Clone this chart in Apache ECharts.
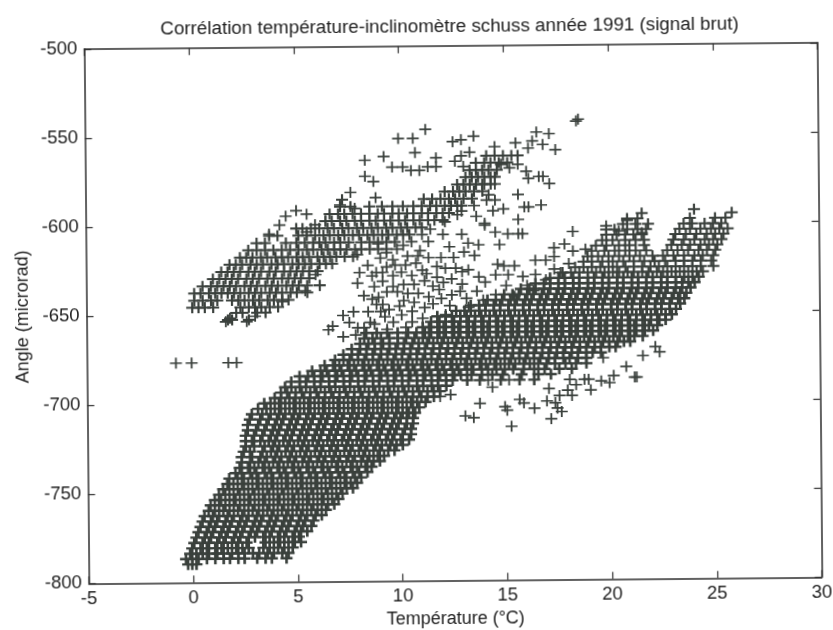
<!DOCTYPE html>
<html><head><meta charset="utf-8">
<script src="https://cdn.jsdelivr.net/npm/echarts@6/dist/echarts.min.js"></script>
<style>html,body{margin:0;padding:0;background:#fff;overflow:hidden}
#c{position:absolute;left:0;top:0;width:833px;height:630px;transform:rotate(-0.5deg);transform-origin:452px 312px}</style>
</head><body><div id="c"></div>
<script>
const titleText='Corrélation température-inclinomètre schuss année 1991 (signal brut)';
const xName='Température (°C)', yName='Angle (microrad)';
const xTicks=[-5,0,5,10,15,20,25,30], yTicks=[-800,-750,-700,-650,-600,-550,-500];
// each row: [angle, [temperatures...]]
const mainMassRows=[
[-789,[-0.4,-0.2,0.0]],
[-786,[-0.5,-0.2,0.1,0.5,0.9,1.3,1.6,2.0,2.3,2.9,3.3,3.6,4.3]],
[-783,[-0.3,0.0,0.3,0.6,1.0,1.3,1.7,2.0,2.3,2.7,3.0,3.4,3.7,4.1,4.4]],
[-780,[-0.2,0.2,0.5,0.9,1.2,1.5,1.9,2.2,2.5,3.2,3.5,3.9,4.2,4.6]],
[-777,[-0.1,0.3,0.6,1.0,1.3,1.7,2.0,2.4,3.3,3.7,4.0,4.4,4.7,5.0]],
[-774,[0.0,0.4,0.7,1.1,1.4,1.8,2.1,2.5,2.8,3.2,3.5,3.9,4.2,4.6,4.9]],
[-771,[0.1,0.5,0.8,1.2,1.5,1.9,2.2,2.6,2.9,3.3,3.6,4.0,4.3,4.7,5.0,5.3]],
[-768,[0.2,0.6,0.9,1.3,1.6,2.0,2.3,2.7,3.0,3.4,3.7,4.1,4.4,4.8,5.1,5.5]],
[-765,[0.3,0.7,1.0,1.4,1.7,2.1,2.4,2.8,3.1,3.5,3.8,4.2,4.5,4.9,5.2,5.6]],
[-762,[0.4,0.8,1.1,1.5,1.8,2.2,2.5,2.9,3.2,3.6,3.9,4.3,4.6,5.0,5.3,5.7,6.0]],
[-759,[0.6,0.9,1.3,1.6,2.0,2.3,2.7,3.0,3.4,3.7,4.1,4.4,4.8,5.1,5.5,5.8,6.2]],
[-756,[0.7,1.1,1.4,1.8,2.1,2.5,2.8,3.2,3.5,3.9,4.2,4.6,4.9,5.3,5.6,6.0,6.3,6.6]],
[-753,[0.9,1.2,1.6,1.9,2.3,2.6,3.0,3.3,3.7,4.0,4.4,4.7,5.1,5.4,5.8,6.1,6.5,6.8]],
[-750,[1.1,1.4,1.8,2.1,2.5,2.8,3.2,3.5,3.9,4.2,4.6,4.9,5.3,5.6,6.0,6.3,6.7,7.0]],
[-747,[1.3,1.6,2.0,2.3,2.7,3.0,3.4,3.7,4.1,4.4,4.8,5.1,5.5,5.8,6.2,6.5,6.9,7.2,7.5]],
[-744,[1.5,1.8,2.2,2.5,2.9,3.2,3.6,3.9,4.3,4.6,5.0,5.3,5.7,6.0,6.4,6.7,7.1,7.4,7.7]],
[-741,[1.6,2.0,2.3,2.7,3.0,3.4,3.7,4.1,4.4,4.8,5.1,5.5,5.8,6.2,6.5,6.9,7.2,7.6,7.9]],
[-738,[1.9,2.2,2.6,2.9,3.3,3.6,4.0,4.3,4.7,5.0,5.4,5.7,6.1,6.4,6.8,7.1,7.5,7.8,8.2]],
[-735,[2.1,2.5,2.8,3.2,3.5,3.9,4.2,4.6,4.9,5.3,5.6,6.0,6.3,6.7,7.0,7.4,7.7,8.1,8.4]],
[-732,[2.2,2.6,3.0,3.3,3.7,4.0,4.4,4.7,5.1,5.4,5.8,6.1,6.5,6.8,7.2,7.5,7.9,8.2,8.5,8.8]],
[-729,[2.2,2.7,3.1,3.4,3.8,4.1,4.5,4.8,5.2,5.5,5.9,6.2,6.6,6.9,7.3,7.6,8.0,8.3,8.7,9.0]],
[-726,[2.3,2.6,3.2,3.6,3.9,4.3,4.6,5.0,5.3,5.7,6.0,6.4,6.7,7.1,7.4,7.8,8.1,8.5,8.8,9.2,9.5]],
[-723,[2.4,2.8,3.3,3.7,4.0,4.4,4.7,5.1,5.4,5.8,6.1,6.5,6.8,7.2,7.5,7.9,8.2,8.6,8.9,9.3,9.6,9.9]],
[-720,[2.4,2.7,3.1,3.5,3.8,4.2,4.5,4.9,5.2,5.6,5.9,6.3,6.6,7.0,7.3,7.7,8.0,8.4,8.7,9.1,9.4,9.8,10.2]],
[-717,[2.4,2.8,3.2,3.6,3.9,4.3,4.6,5.0,5.3,5.7,6.0,6.4,6.7,7.1,7.4,7.8,8.1,8.5,8.8,9.2,9.5,9.9,10.3]],
[-714,[2.5,2.9,3.3,3.7,4.0,4.4,4.7,5.1,5.4,5.8,6.1,6.5,6.8,7.2,7.5,7.9,8.2,8.6,8.9,9.3,9.6,10.0,10.3]],
[-711,[2.5,3.0,3.4,3.8,4.1,4.5,4.8,5.2,5.5,5.9,6.2,6.6,6.9,7.3,7.6,8.0,8.3,8.7,9.0,9.4,9.7,10.1,10.4]],
[-708,[2.6,3.1,3.5,3.9,4.2,4.6,4.9,5.3,5.6,6.0,6.3,6.7,7.0,7.4,7.7,8.1,8.4,8.8,9.1,9.5,9.8,10.1,10.4]],
[-705,[2.7,3.2,3.6,4.0,4.3,4.7,5.0,5.4,5.7,6.1,6.4,6.8,7.1,7.5,7.8,8.2,8.5,8.9,9.2,9.6,9.9,10.2,10.5]],
[-702,[3.0,3.4,3.8,4.1,4.5,4.8,5.2,5.5,5.9,6.2,6.6,6.9,7.3,7.6,8.0,8.3,8.7,9.0,9.4,9.7,10.1,10.4,10.7]],
[-699,[3.3,3.6,4.0,4.3,4.7,5.0,5.4,5.7,6.1,6.4,6.8,7.1,7.5,7.8,8.2,8.5,8.9,9.2,9.6,9.9,10.3,10.6,11.0]],
[-696,[3.8,4.1,4.5,4.8,5.2,5.5,5.9,6.2,6.6,6.9,7.3,7.6,8.0,8.3,8.7,9.0,9.4,9.7,10.1,10.4,10.8,11.1,11.4]],
[-693,[4.1,4.4,4.8,5.1,5.5,5.8,6.2,6.5,6.9,7.2,7.6,7.9,8.3,8.6,9.0,9.3,9.7,10.0,10.4,10.7,11.1,11.4,11.7]],
[-690,[4.3,4.6,5.0,5.3,5.7,6.0,6.4,6.7,7.1,7.4,7.8,8.1,8.5,8.8,9.2,9.5,9.9,10.2,10.6,10.9,11.3,11.6,12.0]],
[-687,[4.6,5.0,5.3,5.7,6.0,6.4,6.7,7.1,7.4,7.8,8.1,8.5,8.8,9.2,9.5,9.9,10.2,10.6,10.9,11.3,11.6,12.0,12.3,13.0,13.6,14.6,15.5,16.2]],
[-684,[5.0,5.4,5.7,6.1,6.4,6.8,7.1,7.5,7.8,8.2,8.5,8.9,9.2,9.6,9.9,10.3,10.6,11.0,11.3,11.7,12.0,12.4,12.7,13.2,13.7,14.2,14.7,15.6,16.4,17.0]],
[-681,[5.6,6.0,6.3,6.7,7.0,7.4,7.7,8.1,8.4,8.8,9.1,9.5,9.8,10.2,10.5,10.9,11.2,11.6,11.9,12.3,12.6,13.0,13.3,13.7,14.0,14.4,14.8,15.2,15.7,16.2,16.7,17.4,18.0]],
[-678,[6.2,6.6,6.9,7.3,7.6,8.0,8.3,8.7,9.0,9.4,9.7,10.1,10.4,10.8,11.1,11.5,11.8,12.2,12.5,12.9,13.2,13.6,13.9,14.3,14.6,15.0,15.3,15.7,16.0,16.4,16.8,17.2,17.7,18.2,18.7]],
[-675,[6.7,7.1,7.4,7.8,8.1,8.5,8.8,9.2,9.5,9.9,10.2,10.6,10.9,11.3,11.6,12.0,12.3,12.7,13.0,13.4,13.7,14.1,14.4,14.8,15.1,15.5,15.8,16.2,16.5,16.9,17.2,17.6,17.9,18.3,18.7]],
[-672,[7.1,7.5,7.8,8.2,8.5,8.9,9.2,9.6,9.9,10.3,10.6,11.0,11.3,11.7,12.0,12.4,12.7,13.1,13.4,13.8,14.1,14.5,14.8,15.2,15.5,15.9,16.2,16.6,16.9,17.3,17.6,18.0,18.3,18.7,19.0,19.4]],
[-669,[7.5,7.9,8.2,8.6,8.9,9.3,9.6,10.0,10.3,10.7,11.0,11.4,11.7,12.1,12.4,12.8,13.1,13.5,13.8,14.2,14.5,14.9,15.2,15.6,15.9,16.3,16.6,17.0,17.3,17.7,18.0,18.4,18.7,19.1,19.4,19.8,20.1]],
[-666,[7.9,8.3,8.6,9.0,9.3,9.7,10.0,10.4,10.7,11.1,11.4,11.8,12.1,12.5,12.8,13.2,13.5,13.9,14.2,14.6,14.9,15.3,15.6,16.0,16.3,16.7,17.0,17.4,17.7,18.1,18.4,18.8,19.1,19.5,19.8,20.2,20.5,20.8]],
[-663,[8.1,8.5,8.9,9.3,9.7,10.1,10.5,10.9,11.2,11.6,11.9,12.3,12.6,13.0,13.3,13.7,14.0,14.4,14.7,15.1,15.4,15.8,16.1,16.5,16.8,17.2,17.5,17.9,18.2,18.6,18.9,19.3,19.6,20.0,20.3,20.7,21.0,21.4]],
[-660,[8.2,8.7,9.2,9.7,10.2,10.6,11.0,11.3,11.7,12.0,12.4,12.7,13.1,13.4,13.8,14.1,14.5,14.8,15.2,15.5,15.9,16.2,16.6,16.9,17.3,17.6,18.0,18.3,18.7,19.0,19.4,19.7,20.1,20.4,20.8,21.1,21.5,21.9]],
[-657,[10.9,11.2,11.6,11.9,12.3,12.6,13.0,13.3,13.7,14.0,14.4,14.7,15.1,15.4,15.8,16.1,16.5,16.8,17.2,17.5,17.9,18.2,18.6,18.9,19.3,19.6,20.0,20.3,20.7,21.0,21.4,21.7,22.1]],
[-654,[11.3,11.7,12.0,12.4,12.7,13.1,13.4,13.8,14.1,14.5,14.8,15.2,15.5,15.9,16.2,16.6,16.9,17.3,17.6,18.0,18.3,18.7,19.0,19.4,19.7,20.1,20.4,20.8,21.1,21.5,21.8,22.2,22.5]],
[-651,[11.6,12.0,12.3,12.7,13.0,13.4,13.7,14.1,14.4,14.8,15.1,15.5,15.8,16.2,16.5,16.9,17.2,17.6,17.9,18.3,18.6,19.0,19.3,19.7,20.0,20.4,20.7,21.1,21.4,21.8,22.1,22.5,22.8]],
[-648,[12.5,12.9,13.2,13.6,13.9,14.3,14.6,15.0,15.3,15.7,16.0,16.4,16.7,17.1,17.4,17.8,18.1,18.5,18.8,19.2,19.5,19.9,20.2,20.6,20.9,21.3,21.6,22.0,22.3,22.7,23.0]],
[-645,[13.2,13.6,13.9,14.3,14.6,15.0,15.3,15.7,16.0,16.4,16.7,17.1,17.4,17.8,18.1,18.5,18.8,19.2,19.5,19.9,20.2,20.6,20.9,21.3,21.6,22.0,22.3,22.7,23.2]],
[-642,[14.0,14.4,14.7,15.1,15.4,15.8,16.1,16.5,16.8,17.2,17.5,17.9,18.2,18.6,18.9,19.3,19.6,20.0,20.3,20.7,21.0,21.4,21.7,22.1,22.4,22.8,23.1,23.4]],
[-639,[14.8,15.2,15.5,15.9,16.2,16.6,16.9,17.3,17.6,18.0,18.3,18.7,19.0,19.4,19.7,20.1,20.4,20.8,21.1,21.5,21.8,22.2,22.5,22.9,23.2,23.5]],
[-636,[15.6,16.0,16.3,16.7,17.0,17.4,17.7,18.1,18.4,18.8,19.1,19.5,19.8,20.2,20.5,20.9,21.2,21.6,21.9,22.3,22.6,23.0,23.3,23.7]],
[-633,[16.3,16.7,17.0,17.4,17.7,18.1,18.4,18.8,19.1,19.5,19.8,20.2,20.5,20.9,21.2,21.6,21.9,22.3,22.6,23.0,23.3,23.6,23.9]],
[-630,[17.0,17.4,17.7,18.1,18.4,18.8,19.1,19.5,19.8,20.2,20.5,20.9,21.2,21.6,21.9,22.3,22.6,23.0,23.4,23.8,24.1]]
];
const rightLobeRows=[
[-627,[17.6,18.0,18.4,18.8,19.2,19.6,20.0,20.3,20.7,21.0,21.4,21.7,22.1,22.4,22.8,23.2,23.6,24.0,24.3]],
[-624,[18.2,18.6,19.0,19.4,19.8,20.2,20.6,21.0,21.4,21.8,22.2,22.6,23.0,23.4,23.8,24.2,24.8]],
[-621,[18.6,19.0,19.5,20.0,20.5,21.0,21.5,22.0,22.5,23.0,23.4,23.8,24.2,24.7]],
[-618,[18.8,19.3,19.8,20.3,20.8,21.3,21.9,22.4,22.9,23.4,23.9,24.3,24.8]],
[-615,[19.0,19.6,20.1,20.6,21.1,21.6,22.6,23.1,23.6,24.1,24.5,24.9]],
[-612,[19.2,19.7,20.3,20.8,21.5,22.8,23.3,23.7,24.2,24.6,25.0]],
[-609,[19.5,20.0,20.6,21.1,21.5,22.9,23.4,23.9,24.4,24.8,25.2]],
[-606,[19.7,20.2,20.6,21.0,21.4,23.0,23.5,24.0,24.5,24.9,25.3]],
[-603,[19.7,20.1,20.7,21.2,21.6,23.2,23.7,24.2,24.7,25.1,25.5]],
[-600,[20.5,21.1,21.7,23.4,23.8,24.4,24.8,25.2]],
[-597,[20.7,21.2,23.7,24.9,25.4]],
[-594,[21.4,25.7]],
[-592,[23.9]]
];
const upperBandRows=[
[-652,[1.6,1.8,2.6]],
[-648,[2.0,2.3,3.0,3.4]],
[-645,[-0.1,0.2,0.5,0.9,2.2,2.6,2.9,3.2,3.6,4.0]],
[-641,[0.0,0.4,0.8,1.1,1.8,2.1,2.4,2.8,3.1,3.5,3.8,4.2,4.5]],
[-637,[0.0,0.3,0.7,1.0,1.3,1.6,1.9,2.2,2.6,2.9,3.2,3.6,3.9,4.2,4.6,4.9,5.4]],
[-633,[0.4,0.8,1.1,1.4,1.7,2.0,2.4,2.7,3.0,3.4,3.7,4.0,4.4,4.7,5.0,5.4,6.0]],
[-629,[0.9,1.2,1.5,1.8,2.1,2.5,2.8,3.1,3.5,3.8,4.2,4.5,4.8,5.1,5.5]],
[-625,[1.3,1.6,1.9,2.2,2.6,2.9,3.2,3.6,3.9,4.3,4.6,4.9,5.2,5.5,5.9]],
[-621,[1.7,2.0,2.3,2.7,3.0,3.3,3.7,4.0,4.3,4.7,5.0,5.3,5.6,6.0,6.3,6.6]],
[-617,[2.2,2.5,2.8,3.2,3.5,3.9,4.2,4.5,4.9,5.2,5.5,5.9,6.2,6.5,6.8,7.2,7.6]],
[-613,[2.6,3.0,3.4,3.8,4.2,4.6,5.0,5.4,5.7,6.1,6.4,6.7,7.0,7.3,7.7,8.0,8.4,8.8,9.2]],
[-609,[3.0,3.4,4.4,4.9,5.3,5.7,6.0,6.3,6.7,7.0,7.4,8.0,8.4,8.8,9.2,9.6]],
[-605,[3.6,4.0,5.0,5.4,5.8,6.2,6.5,6.9,7.2,7.6,7.9,8.3,8.6,9.0,9.3,9.7,10.0,10.3]],
[-601,[4.9,5.2,5.6,6.0,6.4,6.7,7.1,7.4,7.8,8.1,8.5,8.8,9.2,9.5,9.9,10.2,10.6,10.9]],
[-597,[6.3,6.6,7.0,7.3,7.7,8.0,8.4,8.7,9.1,9.4,9.8,10.1,10.5,10.8,11.2,11.5,11.9]],
[-593,[6.5,6.9,7.2,7.6,8.0,8.4,8.8,9.1,9.5,9.8,10.2,10.5,10.9,11.2,11.6,11.9,12.2]],
[-589,[7.0,7.5,8.4,9.0,9.5,10.0,10.5,10.9,11.3,11.6,12.0,12.3,12.6,12.8]],
[-585,[7.1,11.0,11.4,11.8,12.2,12.5,12.9,13.3]],
[-581,[12.0,12.4,12.7,13.0,13.4,13.8]],
[-577,[12.6,12.9,13.2,13.5,13.8,14.2]],
[-573,[13.0,13.3,13.6,13.9,14.2,14.4]],
[-569,[13.2,13.5,13.8,14.1,14.5]],
[-565,[13.5,13.9,14.2,14.6,15.0]],
[-561,[14.0,14.4,14.8,15.2,15.5]]
];
const scatterPoints=[
[11.1,-546],[9.8,-551],[10.5,-551],[9.1,-561],[10.6,-559],[11.6,-562],[12.4,-553],[12.8,-552],[13.4,-550],[13.2,-559],[16.4,-548],[17.0,-549],[18.3,-542],[18.4,-541],[16.0,-557],[17.3,-558],[16.7,-555],[15.4,-554],[14.4,-556],[16.2,-553],
[8.6,-575],[9.5,-567],[10.0,-567],[10.4,-569],[10.8,-569],[11.2,-567],[11.6,-567],[12.5,-564],[12.8,-561],[12.9,-567],[14.7,-566],[15.1,-568],[15.5,-566],[15.9,-570],[16.0,-574],[16.5,-573],[16.7,-573],[17.0,-577],[14.4,-577],[13.9,-577],
[14.1,-583],[14.0,-586],[14.4,-586],[15.5,-583],[15.8,-590],[16.0,-590],[16.6,-589],[14.8,-591],[14.3,-592],[13.4,-589],[13.5,-595],[15.5,-597],[13.9,-599],[13.9,-600],[14.4,-604],[15.0,-605],[15.5,-605],[15.7,-605],[14.6,-611],[13.6,-611],[13.1,-610],[12.9,-615],[13.4,-617],[12.8,-605],[18.1,-604],
[19.7,-601],[20.3,-604],[20.7,-598],[21.4,-605],[22.0,-621],[16.3,-620],[16.8,-620],[17.2,-618],[17.9,-622],[17.7,-611],[17.2,-613],[18.1,-615],[18.7,-614],[14.5,-622],[14.8,-623],[15.3,-623],[14.4,-628],[15.7,-629],[16.3,-628],[17.2,-625],[17.5,-627],[16.8,-631],[15.9,-634],[16.2,-637],
[12.8,-626],[13.1,-625],[12.5,-624],[13.6,-629],[12.8,-633],[12.7,-637],[13.5,-637],[14.4,-639],[12.2,-612],[11.9,-605],[11.3,-602],[12.0,-598],[12.6,-594],[12.8,-592],
[10.8,-614],[11.2,-609],[10.9,-605],[10.4,-609],[10.0,-611],[9.7,-613],[9.2,-615],[8.9,-618],[10.1,-622],[10.6,-621],[11.2,-618],[11.8,-618],[12.4,-618],[11.6,-623],[9.2,-623],[9.6,-622],[8.7,-626],[9.5,-628],[10.4,-628],[11.1,-627],[11.6,-629],[11.9,-632],[9.0,-631],[10.0,-633],[9.2,-637],[9.7,-637],[10.7,-638],[11.2,-640],[11.8,-641],[8.8,-640],[10.0,-642],[9.3,-647],[10.4,-648],[9.5,-654],[10.4,-654],[8.6,-655],[9.9,-650],[11.0,-646],[11.4,-634],[12.2,-645],[10.9,-652],[9.1,-651],
[10.2,-617],[10.9,-625],[9.9,-626],[9.0,-626],[8.6,-634],[9.5,-634],[10.5,-633],[11.0,-631],[10.2,-638],[9.0,-644],[9.8,-645],[10.5,-643],[11.4,-644],[11.7,-636],[12.3,-630],[12.3,-639],[13.0,-641],[8.9,-648],[10.1,-657],[9.2,-658],[12.0,-650],[13.1,-646],[13.8,-642],[14.9,-634],[15.3,-640],[15.0,-628],[13.9,-632],[12.0,-624],[10.7,-617],[9.5,-619],[8.8,-610],
[7.8,-616],[8.3,-622],[7.9,-626],[8.5,-628],[7.8,-632],[8.1,-639],[8.5,-641],[7.1,-650],[6.6,-656],[7.6,-648],[8.4,-654],[8.7,-644],[7.8,-657],[7.1,-662],[8.1,-657],[6.4,-658],[7.4,-654],[8.3,-648],[7.7,-661],
[8.2,-563],[8.2,-572],[7.5,-581],[8.7,-584],[4.9,-591],[4.4,-594],[5.4,-593],[4.1,-599],[4.9,-601],[5.8,-599],[5.4,-603],[3.6,-604],[6.3,-597],[7.0,-588],[7.7,-590],[5.8,-627],[6.0,-633],[5.3,-636],[4.2,-642],[2.5,-653],[2.9,-650],[1.5,-653],[1.7,-651],
[12.9,-707],[13.3,-708],[13.6,-700],[14.8,-702],[14.9,-704],[15.1,-713],[15.5,-698],[15.7,-700],[16.2,-703],[16.8,-699],[17.2,-700],[17.0,-709],[17.3,-703],[17.5,-705],[17.4,-696],[17.8,-693],[18.0,-696],[18.9,-693],[18.6,-687],[18.8,-687],[19.4,-688],[19.8,-689],[20.0,-685],[21.1,-686],[21.0,-686],[22.2,-672],[19.5,-675],[14.0,-687],[14.2,-691],[15.0,-687],[16.9,-692],[17.9,-687],[18.2,-690],[11.7,-696],[12.2,-695],[20.6,-680],[21.4,-674],[22.0,-669]
];
const isolatedPoints=[[-0.9,-676],[-0.15,-676],[1.6,-676],[2.0,-676]];
// correction of my picture readings, which were taken against the tilted scan's lower ticks
const tempReadingCorrection=0.15, angleReadingCorrection=-0.8;

const plusThin='path://M4.25 0H5.75V4.25H10V5.75H5.75V10H4.25V5.75H0V4.25H4.25Z';
const plusMedium='path://M4.1 0H5.9V4.1H10V5.9H5.9V10H4.1V5.9H0V4.1H4.1Z';
const plusThick='path://M3.9 0H6.1V3.9H10V6.1H6.1V10H3.9V6.1H0V3.9H3.9Z';
const fix=p=>[p[0]+tempReadingCorrection,p[1]+angleReadingCorrection];
const toPoints=rows=>{const out=[];for(const [a,ts] of rows) for(const t of ts) out.push(fix([t,a]));return out;};
const ink='#3a403c', fontName='"Liberation Sans",Arial,sans-serif';
const chart=echarts.init(document.getElementById('c'),null,{renderer:'canvas'});
function xa(pos,show){return {type:'value',position:pos,min:-5,max:30,interval:5,
  axisLine:{show:true,onZero:false,lineStyle:{color:'#2e2e2e',width:1.5}},
  axisTick:{show:true,inside:true,length:7,lineStyle:{color:'#2e2e2e',width:1.2}},
  splitLine:{show:false},
  axisLabel:{show:show,color:'#222',fontSize:18.5,fontFamily:fontName,margin:6},
  name:show?xName:'',nameLocation:'middle',nameGap:29,
  nameTextStyle:{color:'#222',fontSize:18,fontFamily:fontName}};}
function ya(pos,show){return {type:'value',position:pos,min:-800,max:-500,interval:50,
  axisLine:{show:true,onZero:false,lineStyle:{color:'#2e2e2e',width:1.5}},
  axisTick:{show:true,inside:true,length:7,lineStyle:{color:'#2e2e2e',width:1.2}},
  splitLine:{show:false},
  axisLabel:{show:show,color:'#222',fontSize:18.5,fontFamily:fontName,margin:7},
  name:show?yName:'',nameLocation:'middle',nameGap:44,
  nameTextStyle:{color:'#222',fontSize:18,fontFamily:fontName}};}
const marks=(data,symbol)=>({type:'scatter',data,symbol,symbolSize:[12,11],itemStyle:{color:ink,opacity:1},silent:true});
chart.setOption({
  animation:false,backgroundColor:'#fff',
  title:{text:titleText,left:447,top:12,textAlign:'center',
    textStyle:{color:'#222',fontSize:18.8,fontWeight:'normal',fontFamily:fontName}},
  grid:{left:86.5,top:45.8,width:733,height:534.5,outerBoundsMode:'none'},
  xAxis:[xa('bottom',true),xa('top',false)],
  yAxis:[ya('left',true),ya('right',false)],
  series:[
    marks(toPoints(mainMassRows),plusThick),
    marks(toPoints(rightLobeRows).concat(toPoints(upperBandRows)),plusMedium),
    marks(scatterPoints.concat(isolatedPoints).map(fix),plusThin)
  ]
});
</script></body></html>
